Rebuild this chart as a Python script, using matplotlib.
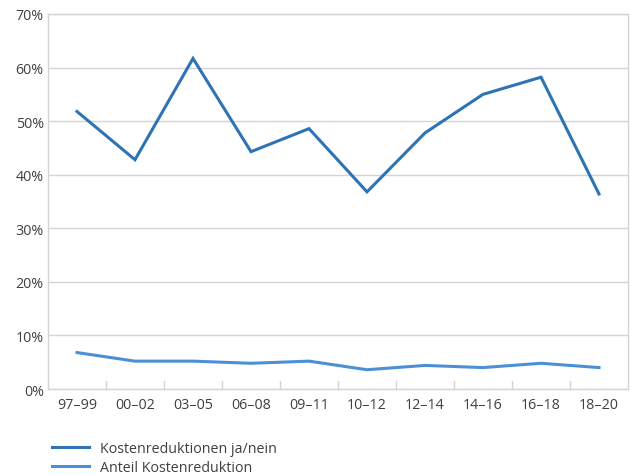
import matplotlib
matplotlib.use("Agg")
import matplotlib.pyplot as plt
from matplotlib.lines import Line2D

categories = ["97–99", "00–02", "03–05", "06–08", "09–11", "10–12", "12–14", "14–16", "16–18", "18–20"]
ja_nein = [51.8, 42.8, 61.7, 44.3, 48.6, 36.8, 47.8, 55.0, 58.2, 36.4]
anteil = [6.8, 5.2, 5.2, 4.8, 5.2, 3.6, 4.4, 4.0, 4.8, 4.0]
yticks = [0, 10, 20, 30, 40, 50, 60, 70]
series_names = ["Kostenreduktionen ja/nein", "Anteil Kostenreduktion"]

plt.rcParams['font.family'] = ['Open Sans', 'DejaVu Sans']
txt = '#404040'
grid = '#d4d4d4'
c1 = '#2E74B5'
c2 = '#4A90D4'
fs = 10.3

fig = plt.figure(figsize=(6.31, 4.77), dpi=100)
ax = fig.add_axes([48/631, 1 - 390/477, 580/631, 375/477])
x = list(range(len(categories)))
ax.plot(x, ja_nein, color=c1, lw=2.2, solid_joinstyle='miter')
ax.plot(x, anteil, color=c2, lw=2.2, solid_joinstyle='miter')
ax.set_xlim(-0.5, len(categories) - 0.5)
ax.set_ylim(0, 70)
ax.set_yticks(yticks)
ax.set_yticklabels([f"{v}%" for v in yticks], color=txt, fontsize=fs)
ax.set_xticks(x)
ax.set_xticklabels(categories, color=txt, fontsize=fs)
ax.tick_params(axis='x', length=0, pad=6)
ax.tick_params(axis='y', length=0, pad=3)
for v in yticks:
    ax.axhline(v, color=grid, lw=1, zorder=0)
for b in range(1, len(categories)):
    ax.plot([b - 0.5, b - 0.5], [0, 70 * 8 / 375], color=grid, lw=1, zorder=0, clip_on=False)
for s in ax.spines.values():
    s.set_color(grid)
    s.set_linewidth(1)

handles = [Line2D([0], [0], color=c1, lw=2.2), Line2D([0], [0], color=c2, lw=2.2)]
fig.legend(handles, series_names, loc='upper left', bbox_to_anchor=(46/631, 1 - 436/477),
           frameon=False, fontsize=fs, labelcolor=txt, handlelength=2.6,
           handletextpad=0.75, labelspacing=0.3, borderaxespad=0)

fig.savefig("out.png", dpi=100)
